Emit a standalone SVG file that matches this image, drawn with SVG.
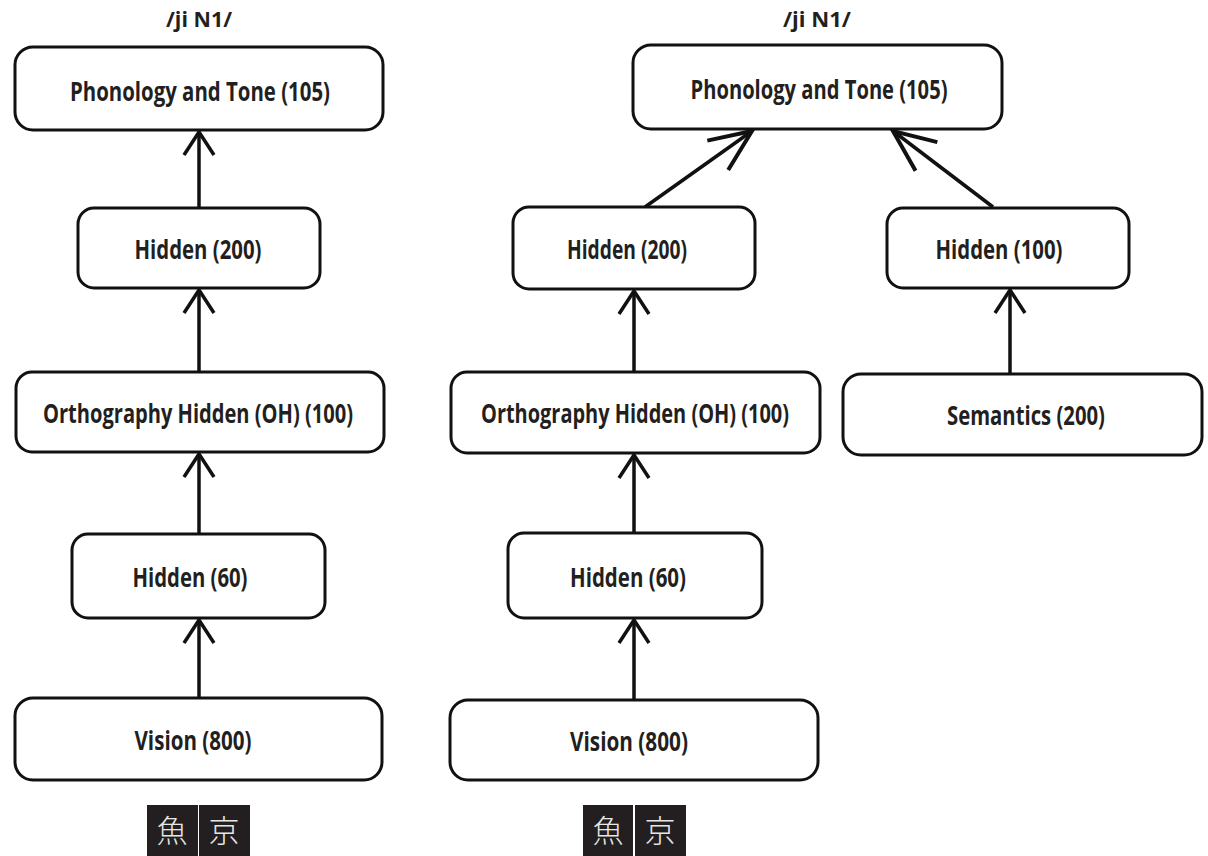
<svg xmlns="http://www.w3.org/2000/svg" width="1208" height="856" viewBox="0 0 1208 856">
<style>
.box{fill:#fff;stroke:#111;stroke-width:3}
.lbl{font-family:"Open Sans","Noto Sans",sans-serif;font-weight:bold;font-size:27px;fill:#231f20;text-anchor:middle}
.top{font-family:"Open Sans","Noto Sans",sans-serif;font-weight:bold;font-size:22px;fill:#231f20;text-anchor:middle}
.conn{stroke:#111;stroke-width:3.5;fill:none}
.cjkbg{fill:#231f20}
.cjk{font-family:"Noto Sans CJK JP","Noto Sans CJK SC",sans-serif;font-weight:200;font-size:31px;fill:#e6e6e6;text-anchor:middle}
</style>
<defs>
<marker id="a" markerUnits="userSpaceOnUse" markerWidth="40" markerHeight="40" viewBox="-30 -20 34 40" refX="0" refY="0" orient="auto">
<path d="M-23,-15 L0,0 L-23,15" fill="none" stroke="#111" stroke-width="3.5"/>
</marker>
<marker id="b" markerUnits="userSpaceOnUse" markerWidth="60" markerHeight="50" viewBox="-50 -25 56 50" refX="0" refY="0" orient="auto">
<path d="M-42,-18 L0,0 L-42,18" fill="none" stroke="#111" stroke-width="4"/>
</marker>
</defs>
<text class="top" x="199" y="27" textLength="66" lengthAdjust="spacingAndGlyphs">/ji N1/</text>
<text class="top" x="817" y="27" textLength="68" lengthAdjust="spacingAndGlyphs">/ji N1/</text>
<g id="connectors">
<line class="conn" x1="199" y1="208" x2="199" y2="132" marker-end="url(#a)"/>
<line class="conn" x1="199" y1="372" x2="199" y2="290" marker-end="url(#a)"/>
<line class="conn" x1="199" y1="534" x2="199" y2="454" marker-end="url(#a)"/>
<line class="conn" x1="199" y1="698" x2="199" y2="620" marker-end="url(#a)"/>
<line class="conn" x1="634" y1="372" x2="634" y2="291" marker-end="url(#a)"/>
<line class="conn" x1="634" y1="533" x2="634" y2="455" marker-end="url(#a)"/>
<line class="conn" x1="634" y1="700" x2="634" y2="620" marker-end="url(#a)"/>
<line class="conn" x1="1010" y1="374" x2="1010" y2="290" marker-end="url(#a)"/>
<line class="conn" x1="645" y1="207" x2="752" y2="131" marker-end="url(#b)"/>
<line class="conn" x1="993" y1="207" x2="893" y2="131" marker-end="url(#b)"/>
</g>
<g id="L_phon"><rect class="box" x="15" y="47" width="368" height="83" rx="18"/><text class="lbl" x="200" y="101" textLength="260" lengthAdjust="spacingAndGlyphs">Phonology and Tone (105)</text></g>
<g id="L_h200"><rect class="box" x="78" y="208" width="242" height="80" rx="16"/><text class="lbl" x="198" y="259" textLength="127" lengthAdjust="spacingAndGlyphs">Hidden (200)</text></g>
<g id="L_oh"><rect class="box" x="16" y="372" width="368" height="80" rx="16"/><text class="lbl" x="198" y="423" textLength="310" lengthAdjust="spacingAndGlyphs">Orthography Hidden (OH) (100)</text></g>
<g id="L_h60"><rect class="box" x="72" y="534" width="253" height="84" rx="16"/><text class="lbl" x="190" y="587" textLength="115" lengthAdjust="spacingAndGlyphs">Hidden (60)</text></g>
<g id="L_vis"><rect class="box" x="15" y="698" width="367" height="82" rx="18"/><text class="lbl" x="193" y="750" textLength="117" lengthAdjust="spacingAndGlyphs">Vision (800)</text></g>
<g id="R_phon"><rect class="box" x="633" y="45" width="369" height="84" rx="18"/><text class="lbl" x="819" y="99" textLength="257" lengthAdjust="spacingAndGlyphs">Phonology and Tone (105)</text></g>
<g id="R_h200"><rect class="box" x="513" y="207" width="242" height="82" rx="16"/><text class="lbl" x="627" y="259" textLength="120" lengthAdjust="spacingAndGlyphs">Hidden (200)</text></g>
<g id="R_h100"><rect class="box" x="887" y="208" width="242" height="80" rx="16"/><text class="lbl" x="999" y="259" textLength="127" lengthAdjust="spacingAndGlyphs">Hidden (100)</text></g>
<g id="R_oh"><rect class="box" x="451" y="372" width="369" height="81" rx="16"/><text class="lbl" x="635" y="423" textLength="308" lengthAdjust="spacingAndGlyphs">Orthography Hidden (OH) (100)</text></g>
<g id="R_sem"><rect class="box" x="843" y="374" width="359" height="81" rx="18"/><text class="lbl" x="1026" y="425" textLength="158" lengthAdjust="spacingAndGlyphs">Semantics (200)</text></g>
<g id="R_h60"><rect class="box" x="508" y="533" width="254" height="85" rx="16"/><text class="lbl" x="628" y="587" textLength="116" lengthAdjust="spacingAndGlyphs">Hidden (60)</text></g>
<g id="R_vis"><rect class="box" x="450" y="700" width="368" height="80" rx="18"/><text class="lbl" x="629" y="751" textLength="118" lengthAdjust="spacingAndGlyphs">Vision (800)</text></g>
<g id="L_chars">
<rect class="cjkbg" x="147" y="805" width="51" height="51"/><text class="cjk" x="172" y="842">魚</text>
<rect class="cjkbg" x="199" y="805" width="51" height="51"/><text class="cjk" x="224" y="842">京</text>
</g>
<g id="R_chars">
<rect class="cjkbg" x="583" y="805" width="50" height="51"/><text class="cjk" x="608" y="842">魚</text>
<rect class="cjkbg" x="635" y="805" width="51" height="51"/><text class="cjk" x="660" y="842">京</text>
</g>
</svg>
